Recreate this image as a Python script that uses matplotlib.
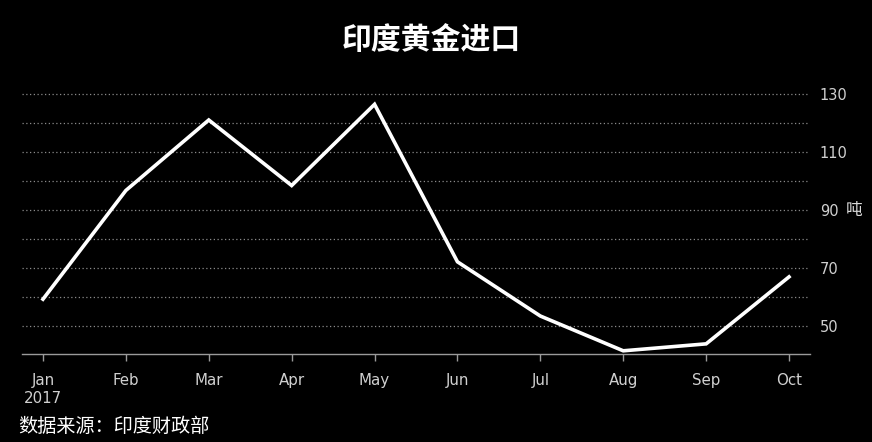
import matplotlib
matplotlib.use("Agg")
import matplotlib.pyplot as plt

plt.rcParams['font.family'] = ['Noto Sans CJK SC', 'DejaVu Sans']

months = ["Jan\n2017", "Feb", "Mar", "Apr", "May", "Jun", "Jul", "Aug", "Sep", "Oct"]
imports_tonnes = [59.2, 96.7, 121.0, 98.4, 126.4, 72.1, 53.4, 41.4, 43.8, 66.9]
yticks = [50, 70, 90, 110, 130]
title = "印度黄金进口"
unit = "吨"
source = "数据来源：印度财政部"

W, H = 872, 442
fig = plt.figure(figsize=(W / 100, H / 100), dpi=100, facecolor="black")
left, right, top, bottom = 22, 810, 79.4, 354
ax = fig.add_axes([left / W, 1 - bottom / H, (right - left) / W, (bottom - top) / H])
ax.set_facecolor("black")

x = list(range(len(months)))
ax.plot(x, imports_tonnes, color="white", lw=2.6, solid_joinstyle="miter", zorder=3)

ax.set_xlim(-0.253, len(months) - 1 + 0.253)
ax.set_ylim(40.3, 135)

for v in range(50, 140, 10):
    ax.axhline(v, color="#8a8a8a", lw=0.9, ls=(0, (1, 2)), zorder=1)

for s in ["top", "left", "right"]:
    ax.spines[s].set_visible(False)
ax.spines["bottom"].set_color("#9a9a9a")
ax.spines["bottom"].set_linewidth(1.0)

ax.set_xticks(x)
ax.set_xticklabels(months, color="#d0d0d0", fontsize=10.8, linespacing=1.25,
                   family="DejaVu Sans")
ax.tick_params(axis="x", colors="#9a9a9a", length=5, width=1, pad=9, labelcolor="#d0d0d0")

ax.yaxis.tick_right()
ax.set_yticks(yticks)
ax.set_yticklabels([str(v) for v in yticks], color="#d0d0d0", fontsize=10.5,
                   family="DejaVu Sans")
ax.tick_params(axis="y", length=0, pad=7)

fig.text(854 / W, 1 - 210 / H, unit, color="#d8d8d8", fontsize=12, ha="center", va="center")
fig.text(431 / W, 1 - 40 / H, title, color="white", fontsize=21.5, fontweight="bold",
         ha="center", va="center")
fig.text(18 / W, 1 - 426 / H, source, color="white", fontsize=13.8, ha="left", va="center")

fig.savefig("out.png", dpi=100, facecolor="black")
